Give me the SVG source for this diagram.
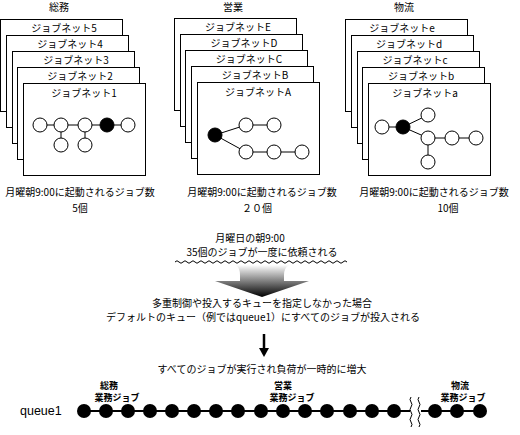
<svg xmlns="http://www.w3.org/2000/svg" width="520" height="435" viewBox="0 0 520 435">
<defs>
<style>
text{font-family:"Noto Sans CJK JP","Noto Sans",sans-serif;font-size:10px;fill:#000}
.c{text-anchor:middle}
.sm{font-size:9px;font-weight:bold}
.card{fill:#fff;stroke:#000;stroke-width:1}
.n{fill:#fff;stroke:#000;stroke-width:1}
.nb{fill:#000;stroke:#000;stroke-width:1}
.e{stroke:#000;stroke-width:1;fill:none}
.q{fill:#000}
</style>
<linearGradient id="g" x1="0" y1="0" x2="0" y2="1">
<stop offset="0" stop-color="#fff"/>
<stop offset="1" stop-color="#000"/>
</linearGradient>
<marker id="ah" markerWidth="9" markerHeight="10" refX="1" refY="5" orient="auto" markerUnits="userSpaceOnUse">
<path d="M0,0 L9,5 L0,10 Z" fill="#000"/>
</marker>
</defs>

<g id="soumu">
<text class="c" x="59" y="11">総務</text>
<rect class="card" x="0.5" y="19.5" width="122" height="92"/>
<text class="c" x="64" y="32">ジョブネット5</text>
<rect class="card" x="6.5" y="35.5" width="122" height="92"/>
<text class="c" x="70" y="48">ジョブネット4</text>
<rect class="card" x="12.5" y="51.5" width="122" height="92"/>
<text class="c" x="76" y="64">ジョブネット3</text>
<rect class="card" x="17.5" y="67.5" width="122" height="92"/>
<text class="c" x="80" y="80">ジョブネット2</text>
<rect class="card" x="23.5" y="83.5" width="122" height="92"/>
<text class="c" x="84" y="97">ジョブネット1</text>
<path class="e" d="M40,125 H128 M61,125 V145 M85,125 V145"/>
<circle class="n" cx="40" cy="125" r="7"/>
<circle class="n" cx="61" cy="125" r="7"/>
<circle class="n" cx="85" cy="125" r="7"/>
<circle class="nb" cx="107" cy="125" r="7"/>
<circle class="n" cx="128" cy="125" r="7"/>
<circle class="n" cx="61" cy="145" r="7"/>
<circle class="n" cx="85" cy="145" r="7"/>
<text class="c" x="80" y="196">月曜朝9:00に起動されるジョブ数</text>
<text class="c" x="80" y="212">5個</text>
</g>

<g id="eigyo">
<text class="c" x="233" y="11">営業</text>
<rect class="card" x="174.5" y="18.5" width="122" height="92"/>
<text class="c" x="238" y="31">ジョブネットE</text>
<rect class="card" x="180.5" y="34.5" width="122" height="92"/>
<text class="c" x="244" y="47">ジョブネットD</text>
<rect class="card" x="185.5" y="50.5" width="122" height="92"/>
<text class="c" x="249" y="63">ジョブネットC</text>
<rect class="card" x="191.5" y="66.5" width="122" height="92"/>
<text class="c" x="255" y="79">ジョブネットB</text>
<rect class="card" x="197.5" y="82.5" width="122" height="92"/>
<text class="c" x="258" y="96">ジョブネットA</text>
<path class="e" d="M215,135 L246,125 H274 M215,135 L246,152 H302"/>
<circle class="nb" cx="215" cy="135" r="7"/>
<circle class="n" cx="246" cy="125" r="7"/>
<circle class="n" cx="274" cy="125" r="7"/>
<circle class="n" cx="246" cy="152" r="7"/>
<circle class="n" cx="274" cy="152" r="7"/>
<circle class="n" cx="302" cy="152" r="7"/>
<text class="c" x="262" y="196">月曜朝9:00に起動されるジョブ数</text>
<text class="c" x="257" y="212">２０個</text>
</g>

<g id="butsuryu">
<text class="c" x="404" y="11">物流</text>
<rect class="card" x="345.5" y="19.5" width="122" height="92"/>
<text class="c" x="402" y="32">ジョブネットe</text>
<rect class="card" x="351.5" y="35.5" width="122" height="92"/>
<text class="c" x="409" y="48">ジョブネットd</text>
<rect class="card" x="357.5" y="51.5" width="122" height="92"/>
<text class="c" x="415" y="64">ジョブネットc</text>
<rect class="card" x="362.5" y="67.5" width="122" height="92"/>
<text class="c" x="421" y="80">ジョブネットb</text>
<rect class="card" x="368.5" y="83.5" width="122" height="92"/>
<text class="c" x="425" y="97">ジョブネットa</text>
<path class="e" d="M382,127 H403 L428,115 M403,127 L428,138 H476 M428,138 V162"/>
<circle class="n" cx="382" cy="127" r="7"/>
<circle class="nb" cx="403" cy="127" r="7"/>
<circle class="n" cx="428" cy="115" r="7"/>
<circle class="n" cx="428" cy="138" r="7"/>
<circle class="n" cx="452" cy="138" r="7"/>
<circle class="n" cx="476" cy="138" r="7"/>
<circle class="n" cx="428" cy="162" r="7"/>
<text class="c" x="434" y="196">月曜朝9:00に起動されるジョブ数</text>
<text class="c" x="448" y="212">10個</text>
</g>

<g id="request">
<text class="c" x="250" y="242">月曜日の朝9:00</text>
<text class="c" x="262" y="256">35個のジョブが一度に依頼される</text>
<path class="e" d="M175,262 q2,-2.5 4,0 t4,0 t4,0 t4,0 t4,0 t4,0 t4,0 t4,0 t4,0 t4,0 t4,0 t4,0 t4,0 t4,0 t4,0 t4,0 t4,0 t4,0 t4,0 t4,0 t4,0 t4,0 t4,0 t4,0 t4,0 t4,0 t4,0 t4,0 t4,0 t4,0 t4,0 t4,0 t4,0 t4,0 t4,0 t4,0 t4,0 t4,0 t4,0 t4,0 t4,0 t4,0 t4,0"/>
</g>

<g id="bigarrow">
<path d="M236,265 H289 Q284,268 284,275 V281 H309 L262,297 L215,281 H240 V275 Q240,268 236,265 Z" fill="url(#g)"/>
</g>

<g id="default">
<text class="c" x="262" y="307">多重制御や投入するキューを指定しなかった場合</text>
<text class="c" x="263" y="321">デフォルトのキュー（例ではqueue1）にすべてのジョブが投入される</text>
</g>

<g id="connectors">
<line x1="264" y1="334" x2="264" y2="349" stroke="#000" stroke-width="2.5" marker-end="url(#ah)"/>
</g>

<g id="result">
<text class="c" x="262" y="373">すべてのジョブが実行され負荷が一時的に増大</text>
</g>

<g id="queue">
<text x="20" y="415" style="font-family:'Liberation Sans',sans-serif;font-size:12.5px">queue1</text>
<text class="sm c" x="109" y="389">総務</text>
<text class="sm c" x="117" y="401">業務ジョブ</text>
<text class="sm c" x="283" y="389">営業</text>
<text class="sm c" x="292" y="401">業務ジョブ</text>
<text class="sm c" x="460" y="389">物流</text>
<text class="sm c" x="463" y="401">業務ジョブ</text>
<path stroke="#000" stroke-width="2" fill="none" d="M84,411 H410 M421,411 H480"/>
<g class="q">
<circle cx="84" cy="411" r="7"/><circle cx="106" cy="411" r="7"/><circle cx="128" cy="411" r="7"/>
<circle cx="150" cy="411" r="7"/><circle cx="172" cy="411" r="7"/><circle cx="194" cy="411" r="7"/>
<circle cx="216" cy="411" r="7"/><circle cx="238" cy="411" r="7"/><circle cx="261" cy="411" r="7"/>
<circle cx="283" cy="411" r="7"/><circle cx="305" cy="411" r="7"/><circle cx="327" cy="411" r="7"/>
<circle cx="350" cy="411" r="7"/><circle cx="372" cy="411" r="7"/><circle cx="394" cy="411" r="7"/>
<circle cx="435" cy="411" r="7"/><circle cx="457" cy="411" r="7"/><circle cx="480" cy="411" r="7"/>
</g>
<path fill="#fff" stroke="none" d="M410,397 H421 V427 H410 Z"/>
<path class="e" d="M411,397 q-2,2.5 0,5 t0,5 t0,5 t0,5 t0,5 t0,5 M419,397 q-2,2.5 0,5 t0,5 t0,5 t0,5 t0,5 t0,5"/>
</g>
</svg>
